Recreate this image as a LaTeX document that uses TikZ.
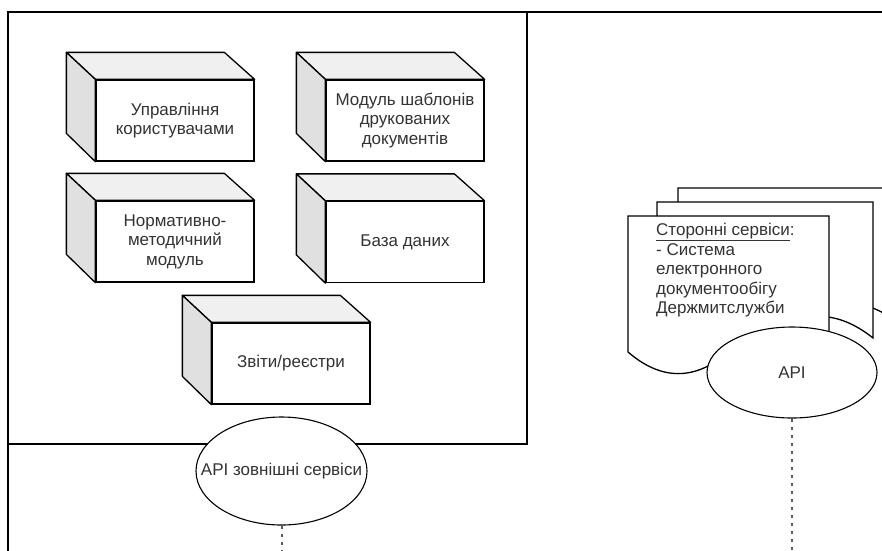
\documentclass[tikz,border=0pt]{standalone}
\usepackage{fontspec}
\setmainfont{Liberation Sans}
\usetikzlibrary{positioning,calc,shapes.geometric}
\definecolor{topgray}{HTML}{F0F0F0}
\definecolor{sidegray}{HTML}{E0E0E0}
\definecolor{txt}{HTML}{333333}
\definecolor{dots}{HTML}{5A5A5A}

\begin{document}
\begin{tikzpicture}[x=1pt,y=-1pt,every node/.style={font=\fontsize{17}{19.5}\selectfont,text=txt},
	face/.style={draw,fill=white,line width=1.3pt,minimum width=158pt,minimum height=81pt,inner sep=0pt,align=center},
	api/.style={draw,fill=white,ellipse,line width=1.1pt,inner sep=0pt},
	wire/.style={dots,line width=2pt,dash pattern=on 3.5pt off 4.5pt}]
\useasboundingbox (0,0) rectangle (882,550);
\clip (0,0) rectangle (882,550);

\draw[line width=2pt](8,551)--(8,12)--(883,12);
\draw[line width=1.3pt](8,12) rectangle (527,444);

\foreach \n/\x/\y/\t in {1/175/120.5/{Управління\\користувачами},2/405/120.5/{Модуль шаблонів\\друкованих\\документів},3/175/241.5/{Нормативно-\\методичний\\модуль},4/405/242/{База даних},5/291/363.5/{Звіти/реєстри}}{
	\node[face](m\n) at (\x,\y) {\t};
	\filldraw[line width=1.3pt,fill=topgray,line join=round](m\n.north west)--++(-29,-27)--++(158,0)--(m\n.north east)--cycle;
	\filldraw[line width=1.3pt,fill=sidegray,line join=round](m\n.north west)--++(-29,-27)--++(0,81)--(m\n.south west)--cycle;
}

\foreach \x/\y/\w in {678/188/222,657/202/216,628/216/201}{
	\filldraw[fill=white,line width=1.3pt](\x,\y)--++(\w,0)--++(0,136)
		.. controls ({\x+5*\w/6},{\y+107.2}) and ({\x+2*\w/3},{\y+107.2}) .. ({\x+\w/2},{\y+136})
		.. controls ({\x+\w/3},{\y+164.8}) and ({\x+\w/6},{\y+164.8}) .. (\x,{\y+136})--cycle;
}
\node[anchor=north west,align=left,inner sep=0pt](svc) at (656,223) {\underline{Сторонні сервіси}:\\- Система\\електронного\\документообігу\\Держмитслужби};

\node[api,minimum width=171pt,minimum height=108pt](a1) at (281.5,471) {\makebox[0pt]{API зовнішні сервіси}};
\node[api,minimum width=170pt,minimum height=91pt](a2) at (792,372.5) {API};

\coordinate(e1) at (281.5,551);
\coordinate(e2) at (792,551);
\foreach \a/\e in {a1/e1,a2/e2}{
	\draw[wire](\a.south)--(\e);
}
\end{tikzpicture}
\end{document}
